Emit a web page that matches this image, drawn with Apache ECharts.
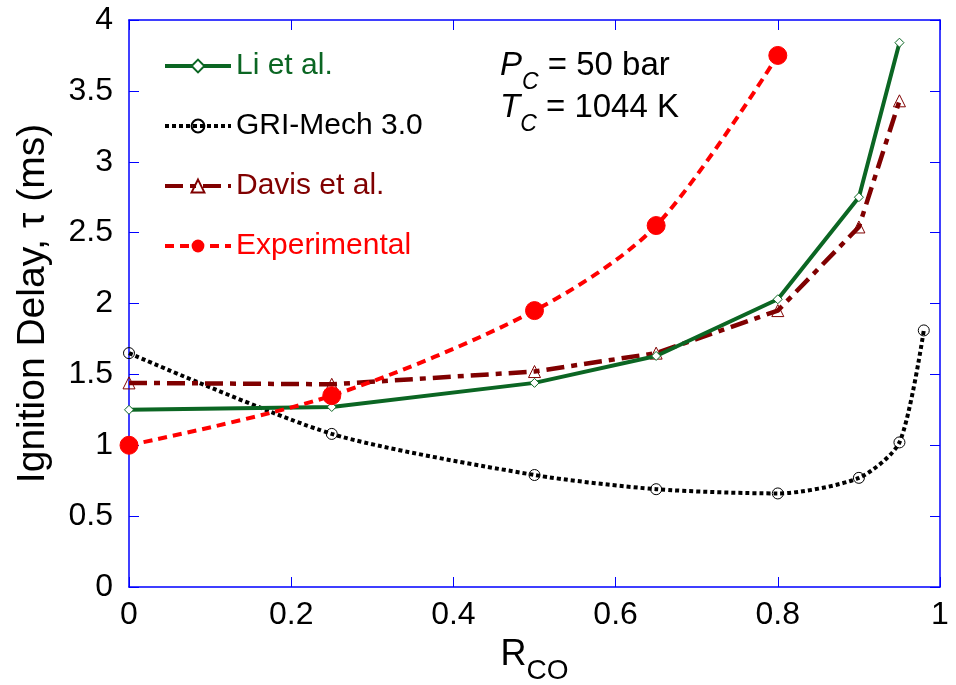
<!DOCTYPE html>
<html><head><meta charset="utf-8">
<script src="https://cdn.jsdelivr.net/npm/echarts@6/dist/echarts.min.js"></script>
<style>html,body{margin:0;padding:0;background:#fff}#c{width:956px;height:685px}</style>
</head><body><div id="c"></div>
<script>
const xTicks = [0, 0.2, 0.4, 0.6, 0.8, 1];
const yTicks = [0, 0.5, 1, 1.5, 2, 2.5, 3, 3.5, 4];
const liX = [0, 0.25, 0.5, 0.65, 0.8, 0.9, 0.95];
const liY = [1.25, 1.27, 1.44, 1.63, 2.03, 2.75, 3.84];
const griX = [0, 0.25, 0.5, 0.65, 0.8, 0.9, 0.95, 0.98];
const griY = [1.65, 1.08, 0.79, 0.69, 0.66, 0.77, 1.02, 1.81];
const davisX = [0, 0.25, 0.5, 0.65, 0.8, 0.9, 0.95];
const davisY = [1.44, 1.43, 1.52, 1.65, 1.95, 2.54, 3.43];
const expX = [0, 0.25, 0.5, 0.65, 0.8];
const expY = [1.0, 1.35, 1.95, 2.55, 3.75];
const names = ['Li et al.', 'GRI-Mech 3.0', 'Davis et al.', 'Experimental'];
const colors = ['#0b6623', '#000000', '#800000', '#ff0000'];

const zip = (a, b) => a.map((v, i) => [v, b[i]]);
const chart = echarts.init(document.getElementById('c'));
const font = 'Liberation Sans, Arial, sans-serif';
const blue = '#0000ff';
const baseAxis = {
  min: 0, max: 1, interval: 0.2, type: 'value',
  axisLine: {show: true, onZero: false, lineStyle: {color: blue, width: 1.5}},
  axisTick: {show: true, inside: true, length: 10, lineStyle: {color: blue}},
  splitLine: {show: false}
};
const fmt = v => String(+v.toFixed(1));
chart.setOption({
  animation: false,
  grid: {left: 129, right: 16, top: 20, bottom: 98, show: false, containLabel: false, outerBoundsMode: 'none'},
  xAxis: [
    Object.assign({}, baseAxis, {
      position: 'bottom',
      axisLabel: {color: '#000', fontSize: 32, fontFamily: font, margin: 12, formatter: fmt},
      name: '{m|R}{s|CO}', nameLocation: 'middle', nameGap: 50,
      nameTextStyle: {rich: {m: {fontSize: 36, fontFamily: font, color: '#000'},
        s: {fontSize: 28, fontFamily: font, color: '#000', verticalAlign: 'bottom', padding: [0,0,-12,0]}}}
    }),
    Object.assign({}, baseAxis, {position: 'top', axisLabel: {show: false}})
  ],
  yAxis: [
    Object.assign({}, baseAxis, {
      max: 4, interval: 0.5, position: 'left',
      axisLabel: {color: '#000', fontSize: 32, fontFamily: font, margin: 16, formatter: fmt},
      name: 'Ignition Delay, \u03c4 (ms)', nameLocation: 'middle', nameGap: 76,
      nameTextStyle: {fontSize: 39, fontFamily: font, color: '#000'}
    }),
    Object.assign({}, baseAxis, {max: 4, interval: 0.5, position: 'right', axisLabel: {show: false}})
  ],
  legend: {
    left: 158, top: 44, orient: 'vertical', itemGap: 26, itemWidth: 66, itemHeight: 16,
    textStyle: {fontSize: 30, fontFamily: font, lineHeight: 34, padding: [0, 0, 0, 0]},
    lineStyle: {width: 4},
    data: names.map((n, i) => ({name: n, textStyle: {color: colors[i]}}))
  },
  series: [
    {name: names[0], type: 'line', data: zip(liX, liY), symbol: 'diamond', symbolSize: 9,
      itemStyle: {color: '#fff', borderColor: colors[0], borderWidth: 1},
      lineStyle: {color: colors[0], width: 4}, z: 3},
    {name: names[1], type: 'line', data: zip(griX, griY), symbol: 'circle', symbolSize: 11, smooth: 0.25,
      itemStyle: {color: 'rgba(255,255,255,0)', borderColor: colors[1], borderWidth: 1},
      lineStyle: {color: colors[1], width: 4, type: [4, 3]}, z: 2},
    {name: names[2], type: 'line', data: zip(davisX, davisY), symbol: 'triangle', symbolSize: 12,
      itemStyle: {color: 'rgba(255,255,255,0)', borderColor: colors[2], borderWidth: 1},
      lineStyle: {color: colors[2], width: 4.5, type: [18, 7, 6, 7]}, z: 2},
    {name: names[3], type: 'line', data: zip(expX, expY), symbol: 'circle', symbolSize: 18, smooth: 0.3,
      itemStyle: {color: colors[3], borderColor: colors[3]},
      lineStyle: {color: colors[3], width: 4, type: [9, 6]}, z: 4}
  ],
  graphic: [
    {type: 'text', left: 500, top: 49, style: {text: '{i|P}{s|C}{n| = 50 bar}', rich: {
      i: {fontSize: 33, fontStyle: 'italic', fontFamily: font, fill: '#000'},
      n: {fontSize: 33, fontFamily: font, fill: '#000'},
      s: {fontSize: 23, fontStyle: 'italic', fontFamily: font, fill: '#000', verticalAlign: 'bottom', padding: [0,0,-12,0]}},
      font: '33px ' + font, fill: '#000'}},
    {type: 'text', left: 500, top: 91, style: {text: '{i|T}{s|C}{n| = 1044 K}', rich: {
      i: {fontSize: 33, fontStyle: 'italic', fontFamily: font, fill: '#000'},
      n: {fontSize: 33, fontFamily: font, fill: '#000'},
      s: {fontSize: 23, fontStyle: 'italic', fontFamily: font, fill: '#000', verticalAlign: 'bottom', padding: [0,0,-12,0]}},
      font: '33px ' + font, fill: '#000'}}
  ]
});
</script></body></html>
